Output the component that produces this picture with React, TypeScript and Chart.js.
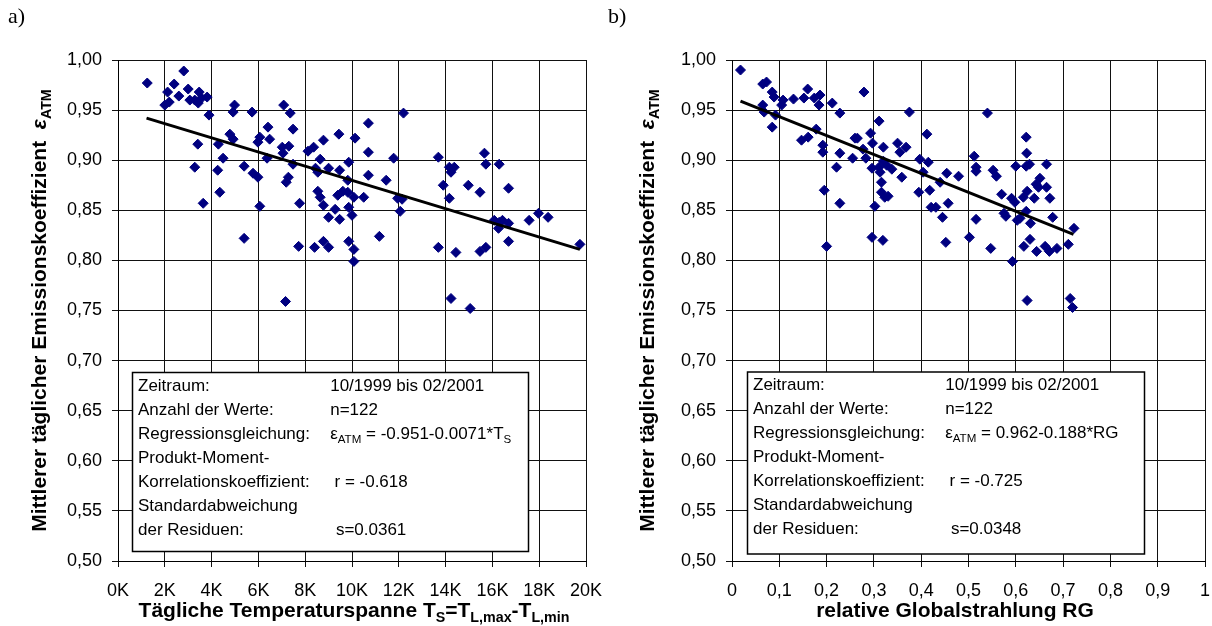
import React, { useEffect, useRef } from 'react';
import { Chart, registerables } from 'chart.js';
Chart.register(...registerables);

const FONT = '"Liberation Sans", Arial, sans-serif';
const SERIF = '"Liberation Serif", "Times New Roman", serif';

// ---------- Data: panel a) daily temperature span (K) vs. emission coefficient ----------
const spanA = [
  1.25, 2.81, 2.40, 2.12, 3.00, 2.60, 2.00, 2.19, 3.07, 3.47,
  3.43, 3.57, 3.81, 3.28, 3.89, 3.41, 3.28, 3.64, 4.98, 4.92,
  5.73, 4.29, 4.49, 4.26, 4.35, 4.78, 4.92, 5.39, 5.77, 5.98,
  6.06, 6.41, 6.06, 5.98, 6.48, 6.37, 7.08, 7.36, 7.48, 7.02,
  7.30, 7.05, 7.48, 7.28, 7.19, 7.76, 8.12, 8.36, 8.78, 9.44,
  10.13, 8.64, 8.44, 8.54, 9.00, 9.47, 9.86, 9.82, 8.54, 8.64,
  8.78, 9.28, 9.00, 9.47, 9.39, 9.61, 9.82, 10.08, 10.50, 9.86,
  10.00, 10.70, 10.70, 10.70, 5.39, 7.72, 8.40, 8.78, 9.00, 9.86,
  10.08, 10.08, 7.16, 12.20, 11.78, 11.46, 11.95, 12.14, 12.06, 11.17,
  13.69, 14.16, 14.37, 14.23, 13.90, 14.16, 14.97, 15.47, 15.66, 15.72,
  16.29, 16.69, 16.08, 16.29, 16.43, 16.69, 16.26, 17.57, 17.97, 18.38,
  16.69, 19.74, 13.69, 14.44, 15.47, 15.72, 14.23, 15.05,
];
const emissA = [
  0.977, 0.989, 0.976, 0.968, 0.971, 0.964, 0.955, 0.958, 0.960, 0.968,
  0.957, 0.962, 0.963, 0.960, 0.945, 0.916, 0.893, 0.857, 0.955, 0.948,
  0.948, 0.916, 0.902, 0.890, 0.868, 0.926, 0.921, 0.894, 0.887, 0.883,
  0.854, 0.933, 0.923, 0.918, 0.921, 0.902, 0.955, 0.947, 0.931, 0.913,
  0.914, 0.907, 0.896, 0.883, 0.878, 0.857, 0.909, 0.913, 0.920, 0.926,
  0.922, 0.901, 0.892, 0.888, 0.892, 0.890, 0.898, 0.880, 0.869, 0.863,
  0.855, 0.851, 0.843, 0.841, 0.865, 0.869, 0.868, 0.863, 0.863, 0.853,
  0.845, 0.937, 0.908, 0.885, 0.822, 0.814, 0.813, 0.819, 0.813, 0.819,
  0.811, 0.799, 0.759, 0.947, 0.902, 0.880, 0.862, 0.861, 0.849, 0.824,
  0.903, 0.893, 0.893, 0.888, 0.875, 0.862, 0.875, 0.868, 0.907, 0.896,
  0.896, 0.872, 0.840, 0.838, 0.840, 0.837, 0.832, 0.840, 0.847, 0.843,
  0.819, 0.816, 0.813, 0.808, 0.809, 0.813, 0.762, 0.752,
];
const regLineAX = [1.22, 19.74];
const regLineAY = [0.942, 0.811];

// ---------- Data: panel b) relative global radiation vs. emission coefficient ----------
const rgB = [
  0.018, 0.065, 0.073, 0.085, 0.089, 0.065, 0.068, 0.092, 0.085, 0.108,
  0.105, 0.130, 0.152, 0.160, 0.174, 0.186, 0.184, 0.212, 0.228, 0.279,
  0.147, 0.161, 0.178, 0.192, 0.192, 0.195, 0.221, 0.228, 0.228, 0.255,
  0.260, 0.265, 0.283, 0.277, 0.293, 0.297, 0.296, 0.311, 0.320, 0.320,
  0.313, 0.316, 0.311, 0.327, 0.338, 0.316, 0.323, 0.330, 0.302, 0.350,
  0.355, 0.368, 0.359, 0.375, 0.397, 0.404, 0.415, 0.412, 0.395, 0.418,
  0.440, 0.454, 0.421, 0.431, 0.457, 0.445, 0.479, 0.512, 0.516, 0.516,
  0.540, 0.552, 0.559, 0.516, 0.570, 0.575, 0.579, 0.591, 0.598, 0.600,
  0.622, 0.623, 0.622, 0.629, 0.616, 0.624, 0.622, 0.603, 0.609, 0.631,
  0.639, 0.643, 0.651, 0.648, 0.665, 0.665, 0.672, 0.678, 0.723, 0.200,
  0.296, 0.319, 0.452, 0.502, 0.547, 0.593, 0.617, 0.630, 0.644, 0.662,
  0.671, 0.687, 0.711, 0.624, 0.715, 0.720,
];
const emissB = [
  0.990, 0.976, 0.978, 0.968, 0.963, 0.955, 0.948, 0.945, 0.933, 0.960,
  0.955, 0.961, 0.962, 0.971, 0.962, 0.965, 0.955, 0.957, 0.947, 0.968,
  0.920, 0.923, 0.931, 0.915, 0.908, 0.870, 0.893, 0.907, 0.857, 0.902,
  0.922, 0.922, 0.902, 0.911, 0.927, 0.917, 0.892, 0.939, 0.913, 0.899,
  0.888, 0.878, 0.893, 0.895, 0.891, 0.868, 0.863, 0.864, 0.854, 0.917,
  0.908, 0.913, 0.883, 0.948, 0.901, 0.888, 0.898, 0.926, 0.868, 0.870,
  0.878, 0.887, 0.853, 0.853, 0.857, 0.843, 0.884, 0.904, 0.893, 0.889,
  0.947, 0.890, 0.884, 0.841, 0.866, 0.847, 0.844, 0.862, 0.858, 0.894,
  0.923, 0.907, 0.894, 0.896, 0.863, 0.869, 0.849, 0.840, 0.842, 0.837,
  0.862, 0.876, 0.882, 0.873, 0.896, 0.873, 0.862, 0.843, 0.832, 0.814,
  0.823, 0.820, 0.818, 0.823, 0.812, 0.799, 0.814, 0.821, 0.809, 0.814,
  0.809, 0.812, 0.816, 0.760, 0.762, 0.753,
];
const regLineBX = [0.018, 0.722];
const regLineBY = [0.959, 0.826];

// ---------- Axis ranges / tick labels ----------
const yRange = [0.5, 1.0];
const yStep = 0.05;
const xRangeA = [0, 20];
const xStepA = 2;
const xRangeB = [0, 1];
const xStepB = 0.1;

// ---------- Text ----------
const boxLabels = [
  'Zeitraum:',
  'Anzahl der Werte:',
  'Regressionsgleichung:',
  'Produkt-Moment-',
  'Korrelationskoeffizient:',
  'Standardabweichung',
  'der Residuen:',
];
type Seg = { t: string; sub?: boolean; italic?: boolean };
const boxValuesA: Seg[][] = [
  [{ t: '10/1999 bis 02/2001' }],
  [{ t: 'n=122' }],
  [{ t: 'ε' }, { t: 'ATM', sub: true }, { t: ' = -0.951-0.0071*T' }, { t: 'S', sub: true }],
  [],
  [{ t: 'r = -0.618' }],
  [],
  [{ t: 's=0.0361' }],
];
const boxValuesB: Seg[][] = [
  [{ t: '10/1999 bis 02/2001' }],
  [{ t: 'n=122' }],
  [{ t: 'ε' }, { t: 'ATM', sub: true }, { t: ' = 0.962-0.188*RG' }],
  [],
  [{ t: 'r = -0.725' }],
  [],
  [{ t: 's=0.0348' }],
];
const yTitle: Seg[] = [
  { t: 'Mittlerer täglicher Emissionskoeffizient  ' },
  { t: 'ε', italic: true },
  { t: 'ATM', sub: true },
];
const xTitleA: Seg[] = [
  { t: 'Tägliche Temperaturspanne T' },
  { t: 'S', sub: true },
  { t: '=T' },
  { t: 'L,max', sub: true },
  { t: '-T' },
  { t: 'L,min', sub: true },
];
const xTitleB: Seg[] = [{ t: 'relative Globalstrahlung RG' }];

function segFont(s: Seg, size: number, bold: boolean) {
  const fs = s.sub ? size * 0.68 : size;
  return `${s.italic ? 'italic ' : ''}${bold ? 'bold ' : ''}${fs}px ${FONT}`;
}
function segsWidth(ctx: CanvasRenderingContext2D, segs: Seg[], size: number, bold: boolean) {
  let w = 0;
  for (const s of segs) {
    ctx.font = segFont(s, size, bold);
    w += ctx.measureText(s.t).width;
  }
  return w;
}
function drawSegs(ctx: CanvasRenderingContext2D, segs: Seg[], x: number, y: number, size: number, bold: boolean) {
  let cx = x;
  for (const s of segs) {
    ctx.font = segFont(s, size, bold);
    ctx.fillText(s.t, cx, s.sub ? y + size * 0.25 : y);
    cx += ctx.measureText(s.t).width;
  }
}

interface Spec {
  letter: string;
  xs: number[];
  ys: number[];
  lx: number[];
  ly: number[];
  xRange: number[];
  xStep: number;
  xFmt: (v: number) => string;
  xTitle: Seg[];
  xTitleCenter: number;
  yTitleX: number;
  leftW: number;
  padRight: number;
  box: { l: number; t: number; r: number; b: number };
  values: Seg[][];
  colX: number[];
}

function makeChart(canvas: HTMLCanvasElement, s: Spec) {
  const panelPlugin = {
    id: 'panel',
    beforeDatasetsDraw(chart: any) {
      const ctx: CanvasRenderingContext2D = chart.ctx;
      const b = s.box;
      ctx.save();
      ctx.fillStyle = '#fff';
      ctx.fillRect(b.l, b.t, b.r - b.l, b.b - b.t);
      ctx.strokeStyle = '#000';
      ctx.lineWidth = 1.5;
      ctx.strokeRect(b.l, b.t, b.r - b.l, b.b - b.t);
      ctx.fillStyle = '#000';
      ctx.textBaseline = 'alphabetic';
      ctx.textAlign = 'left';
      boxLabels.forEach((lab, i) => {
        const base = b.t + 12 + i * 24 + 6;
        ctx.font = `17px ${FONT}`;
        ctx.fillText(lab, b.l + 5.5, base);
        if (s.values[i].length) drawSegs(ctx, s.values[i], b.l + s.colX[i], base, 17, false);
      });
      ctx.restore();
    },
    afterDraw(chart: any) {
      const ctx: CanvasRenderingContext2D = chart.ctx;
      const area = chart.chartArea;
      ctx.save();
      ctx.fillStyle = '#000';
      ctx.textBaseline = 'alphabetic';
      ctx.textAlign = 'left';
      // panel letter
      ctx.font = `22px ${SERIF}`;
      ctx.fillText(s.letter, s.letter === 'a)' ? 8 : 2, 23);
      // x title
      const xs = 21;
      const wx = segsWidth(ctx, s.xTitle, xs, true);
      drawSegs(ctx, s.xTitle, s.xTitleCenter - wx / 2, 617, xs, true);
      // y title (rotated)
      const ys = 21;
      const wy = segsWidth(ctx, yTitle, ys, true);
      ctx.translate(s.yTitleX, (area.top + area.bottom) / 2);
      ctx.rotate(-Math.PI / 2);
      drawSegs(ctx, yTitle, -wy / 2, ys * 0.36, ys, true);
      ctx.restore();
    },
  };

  const tickFont = { family: FONT, size: 18 };
  return new Chart(canvas, {
    type: 'scatter',
    data: {
      datasets: [
        {
          data: s.lx.map((x, i) => ({ x, y: s.ly[i] })),
          showLine: true,
          borderColor: '#000',
          borderWidth: 3,
          pointRadius: 0,
          order: 0,
        },
        {
          data: s.xs.map((x, i) => ({ x, y: s.ys[i] })),
          pointStyle: 'rectRot',
          pointRadius: 5,
          backgroundColor: '#000080',
          borderColor: '#000080',
          borderWidth: 1,
          order: 1,
        },
      ],
    },
    options: {
      responsive: false,
      animation: false,
      devicePixelRatio: 1,
      events: [],
      layout: { padding: { left: 0, right: s.padRight, top: 60, bottom: 0 } },
      plugins: { legend: { display: false }, tooltip: { enabled: false } },
      scales: {
        x: {
          type: 'linear',
          min: s.xRange[0],
          max: s.xRange[1],
          afterFit: (sc: any) => {
            sc.height = 65;
            sc.paddingLeft = 0;
            sc.paddingRight = 0;
          },
          ticks: {
            stepSize: s.xStep,
            autoSkip: false,
            maxRotation: 0,
            padding: 13,
            color: '#000',
            font: tickFont,
            callback: (v: any) => s.xFmt(Number(v)),
          },
          grid: { color: '#111', lineWidth: 1, tickLength: 6, drawTicks: true },
          border: { color: '#000', width: 1 },
        },
        y: {
          type: 'linear',
          min: yRange[0],
          max: yRange[1],
          afterFit: (sc: any) => {
            sc.width = s.leftW;
            sc.paddingTop = 0;
            sc.paddingBottom = 0;
          },
          ticks: {
            stepSize: yStep,
            autoSkip: false,
            padding: 10,
            color: '#000',
            font: tickFont,
            callback: (v: any) => Number(v).toFixed(2).replace('.', ','),
          },
          grid: { color: '#111', lineWidth: 1, tickLength: 6, drawTicks: true },
          border: { color: '#000', width: 1 },
        },
      },
    } as any,
    plugins: [panelPlugin],
  });
}

const specA: Spec = {
  letter: 'a)',
  xs: spanA,
  ys: emissA,
  lx: regLineAX,
  ly: regLineAY,
  xRange: xRangeA,
  xStep: xStepA,
  xFmt: (v) => `${Math.round(v)}K`,
  xTitle: xTitleA,
  xTitleCenter: 354,
  yTitleX: 38,
  leftW: 118,
  padRight: 20,
  box: { l: 132.5, t: 372.5, r: 528.5, b: 551.5 },
  values: boxValuesA,
  colX: [197.7, 197.7, 197.7, 0, 202, 0, 203.4],
};

const specB: Spec = {
  letter: 'b)',
  xs: rgB,
  ys: emissB,
  lx: regLineBX,
  ly: regLineBY,
  xRange: xRangeB,
  xStep: xStepB,
  xFmt: (v) => {
    if (Math.abs(v) < 1e-9) return '0';
    if (Math.abs(v - 1) < 1e-9) return '1';
    return v.toFixed(1).replace('.', ',');
  },
  xTitle: xTitleB,
  xTitleCenter: 349,
  yTitleX: 40,
  leftW: 126,
  padRight: 7,
  box: { l: 141.5, t: 372, r: 538.5, b: 554 },
  values: boxValuesB,
  colX: [197.7, 197.7, 197.7, 0, 202, 0, 203.4],
};

export default function App() {
  const leftRef = useRef<HTMLCanvasElement>(null);
  const rightRef = useRef<HTMLCanvasElement>(null);
  useEffect(() => {
    const a = makeChart(leftRef.current as HTMLCanvasElement, specA);
    const b = makeChart(rightRef.current as HTMLCanvasElement, specB);
    return () => {
      a.destroy();
      b.destroy();
    };
  }, []);
  return (
    <div style={{ position: 'fixed', left: 0, top: 0, width: 1212, height: 626, background: '#fff' }}>
      <canvas
        ref={leftRef}
        width={606}
        height={626}
        style={{ position: 'absolute', left: 0, top: 0, width: 606, height: 626 }}
      />
      <canvas
        ref={rightRef}
        width={606}
        height={626}
        style={{ position: 'absolute', left: 606, top: 0, width: 606, height: 626 }}
      />
    </div>
  );
}
